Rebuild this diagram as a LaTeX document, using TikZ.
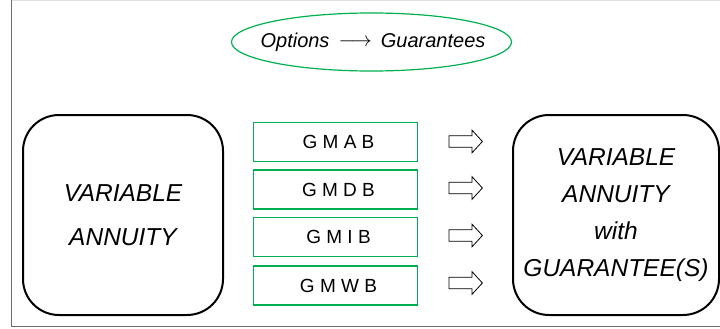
\documentclass[tikz,border=0pt]{standalone}
\usepackage{fontspec}
\setmainfont{Liberation Sans}
\usetikzlibrary{shapes.geometric,shapes.arrows}
\definecolor{gmgreen}{RGB}{0,176,80}
\definecolor{framegray}{RGB}{110,110,110}
\definecolor{toplinegray}{RGB}{225,225,225}
\tikzset{
  vabox/.style={draw=black, line width=2pt, rounded corners=36pt, minimum height=200pt, align=center, inner sep=0pt, font=\fontsize{24.5}{24.5}\selectfont\itshape},
  gmbox/.style={draw=gmgreen, line width=1.2pt, minimum width=164pt, minimum height=39pt, inner sep=0pt, font=\fontsize{19}{19}\selectfont},
  hollowarrow/.style={draw=black, line width=0.8pt, single arrow, single arrow head extend=5.65pt, single arrow tip angle=95, inner xsep=0pt, inner ysep=5.35pt, minimum height=33.5pt, anchor=tail},
}
\begin{document}
\begin{tikzpicture}[x=1pt,y=-1pt]
\useasboundingbox (0,0) rectangle (720,329);
% frame
\draw[toplinegray, line width=1pt] (12,0.5) -- (720,0.5);
\draw[framegray, line width=1.5pt] (11.5,0) -- (11.5,326.5) -- (720,326.5);
% ellipse
\node[inner sep=0pt] (og) at (373,42)
  {\fontsize{20}{20}\selectfont\itshape Options\hspace{9pt}\raisebox{1pt}{$\longrightarrow$}\hspace{9pt}Guarantees};
\draw[gmgreen, line width=1.2pt] (371.5,42) ellipse [x radius=140, y radius=29];
% big boxes
\node[vabox, minimum width=200pt] (va) at (123,215) {VARIABLE\\[20pt]ANNUITY};
\node[vabox, minimum width=206pt] (vag) at (616,215) {VARIABLE\\[12.5pt]ANNUITY\\[12.5pt]with\\[12.5pt]GUARANTEE(S)};
% GM boxes
\node[gmbox] (gmab) at (335.5,142) {\hspace{6pt}G M A B};
\node[gmbox] (gmdb) at (335.5,189.5) {\hspace{6pt}G M D B};
\node[gmbox] (gmib) at (335.5,237) {\hspace{6pt}G M I B};
\node[gmbox] (gmwb) at (335.5,285.5) {\hspace{6pt}G M W B};
% hollow arrows
\node[hollowarrow] (a1) at (448.5,141.5) {};
\node[hollowarrow] (a2) at (448.5,188) {};
\node[hollowarrow] (a3) at (448.5,235.5) {};
\node[hollowarrow] (a4) at (448.5,283) {};
\end{tikzpicture}
\end{document}
